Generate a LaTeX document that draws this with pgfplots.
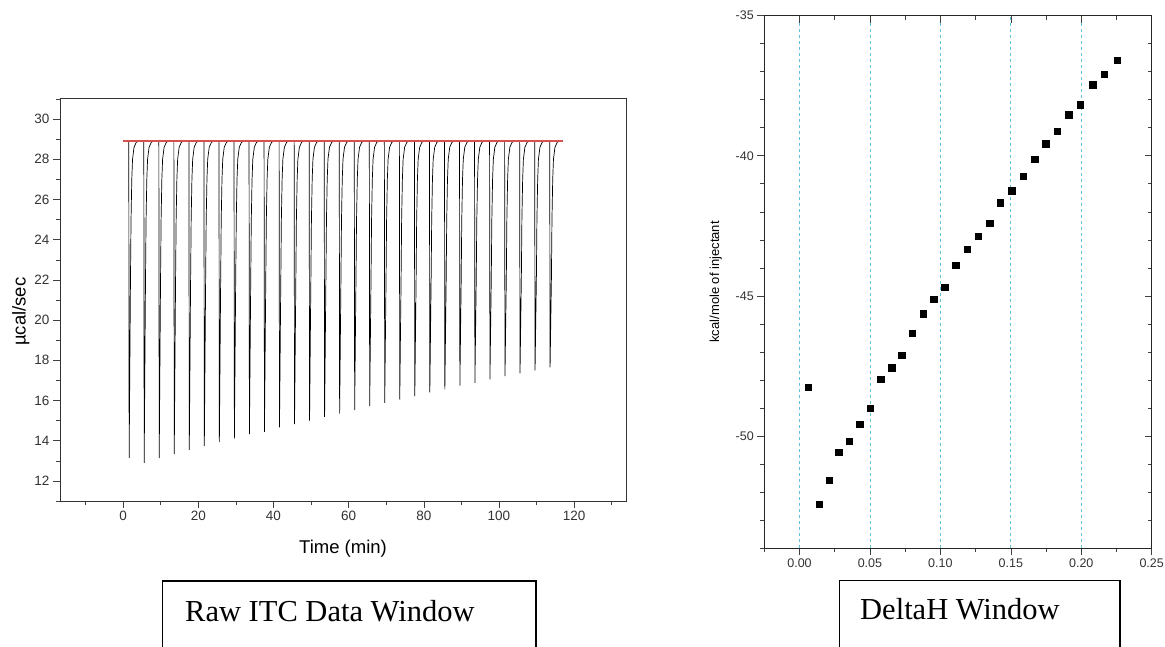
\documentclass[border=0pt]{standalone}
\usepackage{fontspec}
\setmainfont{Liberation Sans}
\newfontfamily\serifbox{Liberation Serif}
\usepackage{pgfplots}
\pgfplotsset{compat=1.18}
\definecolor{gridcyan}{RGB}{100,195,220}
\definecolor{basered}{RGB}{215,80,80}
\begin{document}
\begin{tikzpicture}
\path[use as bounding box] (0,0) rectangle (1165pt,646pt);
% ---------------- Raw ITC data ----------------
\begin{axis}[
  at={(60pt,145pt)}, anchor=south west, scale only axis,
  width=566pt, height=403pt,
  xmin=-16.8, xmax=133.8, ymin=11, ymax=31.05,
  xtick={0,20,...,120}, minor xtick={-10,10,...,130},
  ytick={12,14,...,30}, minor ytick={11,13,...,31},
  xtick pos=bottom, ytick pos=left, tick align=outside,
  major tick length=7pt, minor tick length=4pt,
  tick style={black!75, line width=0.6pt},
  axis line style={black!80, line width=0.8pt},
  tick label style={font=\fontsize{13.5}{14}\selectfont, text=black!80},
  /pgf/number format/assume math mode=true,
  xlabel={Time (min)}, ylabel={µcal/sec},
  label style={font=\fontsize{18.5}{20}\selectfont},
  xlabel style={at={(axis description cs:0.5,-0.119)}, anchor=center},
  ylabel style={at={(axis description cs:-0.0694,0.47)}, anchor=center},
]
\addplot[black, line width=0.7pt] coordinates {
(0,28.9)
(1.5,28.9)(1.6,13.15)(1.95,22)(2.1,25)(2.3,27)(2.5,28)(2.9,28.6)(3.5,28.85)(4.1,28.9)
(5.5,28.9)(5.6,12.9)(5.95,22)(6.1,25)(6.3,27)(6.5,28)(6.9,28.6)(7.5,28.85)(8.1,28.9)
(9.5,28.9)(9.6,13.13)(9.95,22)(10.1,25)(10.3,27)(10.5,28)(10.9,28.6)(11.5,28.85)(12.1,28.9)
(13.5,28.9)(13.6,13.33)(13.95,22)(14.1,25)(14.3,27)(14.5,28)(14.9,28.6)(15.5,28.85)(16.1,28.9)
(17.5,28.9)(17.6,13.54)(17.95,22)(18.1,25)(18.3,27)(18.5,28)(18.9,28.6)(19.5,28.85)(20.1,28.9)
(21.5,28.9)(21.6,13.73)(21.95,22)(22.1,25)(22.3,27)(22.5,28)(22.9,28.6)(23.5,28.85)(24.1,28.9)
(25.5,28.9)(25.6,13.93)(25.95,22)(26.1,25)(26.3,27)(26.5,28)(26.9,28.6)(27.5,28.85)(28.1,28.9)
(29.5,28.9)(29.6,14.1)(29.95,22)(30.1,25)(30.3,27)(30.5,28)(30.9,28.6)(31.5,28.85)(32.1,28.9)
(33.5,28.9)(33.6,14.33)(33.95,22)(34.1,25)(34.3,27)(34.5,28)(34.9,28.6)(35.5,28.85)(36.1,28.9)
(37.5,28.9)(37.6,14.44)(37.95,22)(38.1,25)(38.3,27)(38.5,28)(38.9,28.6)(39.5,28.85)(40.1,28.9)
(41.5,28.9)(41.6,14.66)(41.95,22)(42.1,25)(42.3,27)(42.5,28)(42.9,28.6)(43.5,28.85)(44.1,28.9)
(45.5,28.9)(45.6,14.82)(45.95,22)(46.1,25)(46.3,27)(46.5,28)(46.9,28.6)(47.5,28.85)(48.1,28.9)
(49.5,28.9)(49.6,15.0)(49.95,22)(50.1,25)(50.3,27)(50.5,28)(50.9,28.6)(51.5,28.85)(52.1,28.9)
(53.5,28.9)(53.6,15.19)(53.95,22)(54.1,25)(54.3,27)(54.5,28)(54.9,28.6)(55.5,28.85)(56.1,28.9)
(57.5,28.9)(57.6,15.35)(57.95,22)(58.1,25)(58.3,27)(58.5,28)(58.9,28.6)(59.5,28.85)(60.1,28.9)
(61.5,28.9)(61.6,15.52)(61.95,22)(62.1,25)(62.3,27)(62.5,28)(62.9,28.6)(63.5,28.85)(64.1,28.9)
(65.5,28.9)(65.6,15.72)(65.95,22)(66.1,25)(66.3,27)(66.5,28)(66.9,28.6)(67.5,28.85)(68.1,28.9)
(69.5,28.9)(69.6,15.88)(69.95,22)(70.1,25)(70.3,27)(70.5,28)(70.9,28.6)(71.5,28.85)(72.1,28.9)
(73.5,28.9)(73.6,16.05)(73.95,22)(74.1,25)(74.3,27)(74.5,28)(74.9,28.6)(75.5,28.85)(76.1,28.9)
(77.5,28.9)(77.6,16.22)(77.95,22)(78.1,25)(78.3,27)(78.5,28)(78.9,28.6)(79.5,28.85)(80.1,28.9)
(81.5,28.9)(81.6,16.4)(81.95,22)(82.1,25)(82.3,27)(82.5,28)(82.9,28.6)(83.5,28.85)(84.1,28.9)
(85.5,28.9)(85.6,16.55)(85.95,22)(86.1,25)(86.3,27)(86.5,28)(86.9,28.6)(87.5,28.85)(88.1,28.9)
(89.5,28.9)(89.6,16.73)(89.95,22)(90.1,25)(90.3,27)(90.5,28)(90.9,28.6)(91.5,28.85)(92.1,28.9)
(93.5,28.9)(93.6,16.88)(93.95,22)(94.1,25)(94.3,27)(94.5,28)(94.9,28.6)(95.5,28.85)(96.1,28.9)
(97.5,28.9)(97.6,17.05)(97.95,22)(98.1,25)(98.3,27)(98.5,28)(98.9,28.6)(99.5,28.85)(100.1,28.9)
(101.5,28.9)(101.6,17.21)(101.95,22)(102.1,25)(102.3,27)(102.5,28)(102.9,28.6)(103.5,28.85)(104.1,28.9)
(105.5,28.9)(105.6,17.35)(105.95,22)(106.1,25)(106.3,27)(106.5,28)(106.9,28.6)(107.5,28.85)(108.1,28.9)
(109.5,28.9)(109.6,17.5)(109.95,22)(110.1,25)(110.3,27)(110.5,28)(110.9,28.6)(111.5,28.85)(112.1,28.9)
(113.5,28.9)(113.6,17.65)(113.95,22)(114.1,25)(114.3,27)(114.5,28)(114.9,28.6)(115.5,28.85)(116.1,28.9)
(117,28.9)
};
\addplot[basered, line width=1.5pt] coordinates {(0,28.9) (117,28.9)};
\end{axis}
% ---------------- DeltaH ----------------
\begin{axis}[
  at={(764.3pt,98pt)}, anchor=south west, scale only axis,
  width=387.4pt, height=532.3pt,
  xmin=-0.025, xmax=0.25, ymin=-54, ymax=-35,
  xtick={0,0.05,0.1,0.15,0.2,0.25},
  minor xtick={-0.025,0.025,0.075,0.125,0.175,0.225},
  ytick={-50,-45,-40,-35}, minor ytick={-54,-53,...,-36},
  xtick pos=bottom, ytick pos=left, tick align=outside,
  major tick length=7pt, minor tick length=4pt,
  tick style={black!75, line width=0.6pt},
  axis line style={black!85, line width=0.8pt},
  scaled x ticks=false,
  xticklabel style={/pgf/number format/.cd, fixed, fixed zerofill, precision=2},
  tick label style={font=\fontsize{12.5}{13}\selectfont, text=black!80},
  /pgf/number format/assume math mode=true,
  xmajorgrids,
  major x grid style={gridcyan, dash pattern=on 3pt off 3pt, line width=0.8pt},
  ylabel={kcal/mole of injectant},
  ylabel style={at={(axis description cs:-0.1255,0.5)}, anchor=center, font=\fontsize{13}{14}\selectfont},
]
\addplot[only marks, mark=square*, mark size=3.2pt, mark options={fill=black, draw=black}] coordinates {
(0.006,-48.26)
(0.0139,-52.43)
(0.0212,-51.58)
(0.0279,-50.59)
(0.0353,-50.18)
(0.0426,-49.59)
(0.0500,-49.01)
(0.0576,-47.97)
(0.0653,-47.56)
(0.0726,-47.11)
(0.0800,-46.33)
(0.0876,-45.64)
(0.0953,-45.12)
(0.1031,-44.69)
(0.1110,-43.90)
(0.1189,-43.33)
(0.1267,-42.87)
(0.1350,-42.41)
(0.1426,-41.68)
(0.1505,-41.25)
(0.1589,-40.73)
(0.1669,-40.12)
(0.1748,-39.57)
(0.1831,-39.13)
(0.1912,-38.54)
(0.1993,-38.17)
(0.2081,-37.46)
(0.2164,-37.09)
(0.2253,-36.59)
};
\end{axis}
\begin{axis}[
  at={(764.3pt,98pt)}, anchor=south west, scale only axis,
  width=387.4pt, height=532.3pt,
  xmin=-0.025, xmax=0.25, ymin=-54, ymax=-35,
  xtick={0,0.05,0.1,0.15,0.2,0.25},
  minor xtick={-0.025,0.025,0.075,0.125,0.175,0.225},
  ytick={-50,-45,-40,-35}, minor ytick={-54,-53,...,-36},
  xtick pos=top, ytick pos=right, tick align=inside,
  major tick length=7pt, minor tick length=4pt,
  tick style={black!75, line width=0.6pt},
  axis line style={black!85, line width=0.8pt},
  xticklabels={}, yticklabels={},
]
\end{axis}
% ---------------- caption boxes ----------------
\draw[line width=1.5pt] (162.7pt,-2pt) -- (162.7pt,65pt) -- (536pt,65pt) -- (536pt,-2pt);
\node[anchor=base west, inner sep=0pt, font=\serifbox\fontsize{30.5}{32}\selectfont] at (185pt,24.3pt) {Raw ITC Data Window};
\draw[line width=1.5pt] (839.3pt,-2pt) -- (839.3pt,65.7pt) -- (1120pt,65.7pt) -- (1120pt,-2pt);
\node[anchor=base west, inner sep=0pt, font=\serifbox\fontsize{30.5}{32}\selectfont] at (860pt,26.7pt) {DeltaH Window};
\end{tikzpicture}
\end{document}
